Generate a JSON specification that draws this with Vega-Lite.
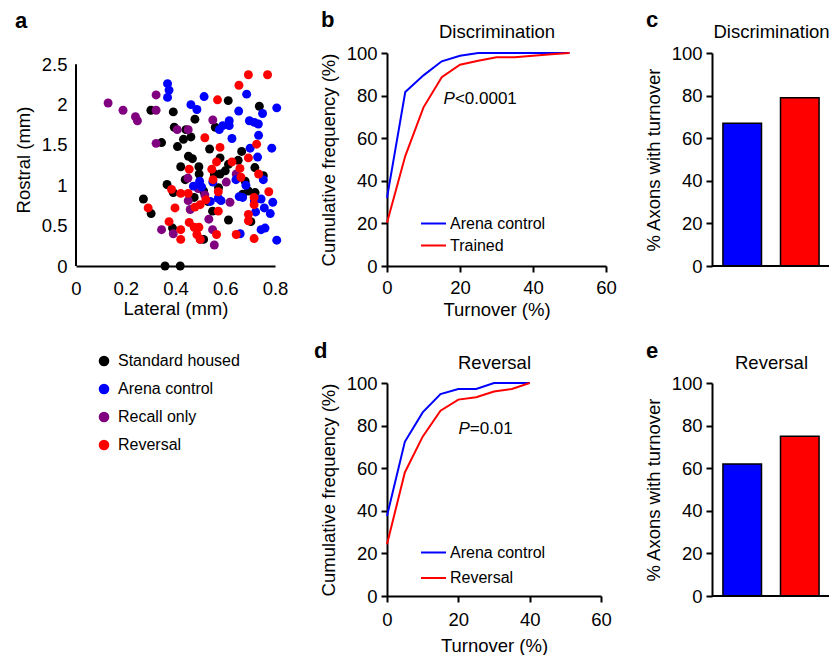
{
  "$schema": "https://vega.github.io/schema/vega-lite/v6.json",
  "padding": {"left": 14, "top": 9, "right": 0, "bottom": 0},
  "bounds": "flush",
  "columns": 3,
  "spacing": {"row": 117, "column": 106},
  "resolve": {"scale": {"color": "independent", "x": "independent", "y": "independent"}, "legend": {"color": "independent"}},
  "concat": [
    {
      "width": 199,
      "height": 213,
      "title": {"text": "a", "anchor": "start", "frame": "group", "fontSize": 22, "fontWeight": "bold", "dx": -61, "offset": 20},
      "layer": [
        {
          "data": {"values": [{}]},
          "mark": {"type": "rule", "color": "black", "strokeWidth": 2},
          "encoding": {
            "x": {"datum": 0, "type": "quantitative"},
            "y": {"datum": 0, "type": "quantitative"},
            "y2": {"datum": 2.5}
          }
        },
        {
          "data": {"values": [
            {"lateral": 0.301, "rostral": 1.93, "group": "Standard housed"},
            {"lateral": 0.344, "rostral": 1.53, "group": "Standard housed"},
            {"lateral": 0.391, "rostral": 1.91, "group": "Standard housed"},
            {"lateral": 0.478, "rostral": 1.82, "group": "Standard housed"},
            {"lateral": 0.395, "rostral": 1.72, "group": "Standard housed"},
            {"lateral": 0.442, "rostral": 1.69, "group": "Standard housed"},
            {"lateral": 0.432, "rostral": 1.57, "group": "Standard housed"},
            {"lateral": 0.462, "rostral": 1.60, "group": "Standard housed"},
            {"lateral": 0.408, "rostral": 1.48, "group": "Standard housed"},
            {"lateral": 0.537, "rostral": 1.45, "group": "Standard housed"},
            {"lateral": 0.612, "rostral": 2.05, "group": "Standard housed"},
            {"lateral": 0.737, "rostral": 1.98, "group": "Standard housed"},
            {"lateral": 0.666, "rostral": 1.42, "group": "Standard housed"},
            {"lateral": 0.452, "rostral": 1.36, "group": "Standard housed"},
            {"lateral": 0.468, "rostral": 1.33, "group": "Standard housed"},
            {"lateral": 0.421, "rostral": 1.23, "group": "Standard housed"},
            {"lateral": 0.494, "rostral": 1.23, "group": "Standard housed"},
            {"lateral": 0.439, "rostral": 1.07, "group": "Standard housed"},
            {"lateral": 0.495, "rostral": 1.14, "group": "Standard housed"},
            {"lateral": 0.556, "rostral": 1.14, "group": "Standard housed"},
            {"lateral": 0.579, "rostral": 1.34, "group": "Standard housed"},
            {"lateral": 0.579, "rostral": 1.14, "group": "Standard housed"},
            {"lateral": 0.613, "rostral": 1.26, "group": "Standard housed"},
            {"lateral": 0.652, "rostral": 1.31, "group": "Standard housed"},
            {"lateral": 0.719, "rostral": 1.22, "group": "Standard housed"},
            {"lateral": 0.753, "rostral": 1.12, "group": "Standard housed"},
            {"lateral": 0.366, "rostral": 1.01, "group": "Standard housed"},
            {"lateral": 0.391, "rostral": 0.91, "group": "Standard housed"},
            {"lateral": 0.271, "rostral": 0.83, "group": "Standard housed"},
            {"lateral": 0.302, "rostral": 0.65, "group": "Standard housed"},
            {"lateral": 0.513, "rostral": 0.93, "group": "Standard housed"},
            {"lateral": 0.573, "rostral": 0.97, "group": "Standard housed"},
            {"lateral": 0.693, "rostral": 0.93, "group": "Standard housed"},
            {"lateral": 0.720, "rostral": 0.91, "group": "Standard housed"},
            {"lateral": 0.549, "rostral": 0.68, "group": "Standard housed"},
            {"lateral": 0.613, "rostral": 0.57, "group": "Standard housed"},
            {"lateral": 0.703, "rostral": 0.55, "group": "Standard housed"},
            {"lateral": 0.513, "rostral": 0.33, "group": "Standard housed"},
            {"lateral": 0.358, "rostral": 0.0, "group": "Standard housed"},
            {"lateral": 0.419, "rostral": 0.0, "group": "Standard housed"},
            {"lateral": 0.388, "rostral": 0.47, "group": "Standard housed"},
            {"lateral": 0.475, "rostral": 0.85, "group": "Standard housed"},
            {"lateral": 0.530, "rostral": 0.80, "group": "Standard housed"},
            {"lateral": 0.680, "rostral": 1.05, "group": "Standard housed"},
            {"lateral": 0.600, "rostral": 1.18, "group": "Standard housed"},
            {"lateral": 0.560, "rostral": 1.72, "group": "Standard housed"},
            {"lateral": 0.670, "rostral": 0.89, "group": "Standard housed"},
            {"lateral": 0.129, "rostral": 2.02, "group": "Recall only"},
            {"lateral": 0.189, "rostral": 1.93, "group": "Recall only"},
            {"lateral": 0.239, "rostral": 1.85, "group": "Recall only"},
            {"lateral": 0.247, "rostral": 1.80, "group": "Recall only"},
            {"lateral": 0.322, "rostral": 2.12, "group": "Recall only"},
            {"lateral": 0.322, "rostral": 1.93, "group": "Recall only"},
            {"lateral": 0.322, "rostral": 1.52, "group": "Recall only"},
            {"lateral": 0.407, "rostral": 1.69, "group": "Recall only"},
            {"lateral": 0.451, "rostral": 1.69, "group": "Recall only"},
            {"lateral": 0.550, "rostral": 1.81, "group": "Recall only"},
            {"lateral": 0.344, "rostral": 0.45, "group": "Recall only"},
            {"lateral": 0.391, "rostral": 0.40, "group": "Recall only"},
            {"lateral": 0.451, "rostral": 0.81, "group": "Recall only"},
            {"lateral": 0.459, "rostral": 0.70, "group": "Recall only"},
            {"lateral": 0.491, "rostral": 0.96, "group": "Recall only"},
            {"lateral": 0.518, "rostral": 0.88, "group": "Recall only"},
            {"lateral": 0.534, "rostral": 0.58, "group": "Recall only"},
            {"lateral": 0.549, "rostral": 0.45, "group": "Recall only"},
            {"lateral": 0.556, "rostral": 0.26, "group": "Recall only"},
            {"lateral": 0.604, "rostral": 1.04, "group": "Recall only"},
            {"lateral": 0.619, "rostral": 0.79, "group": "Recall only"},
            {"lateral": 0.644, "rostral": 1.14, "group": "Recall only"},
            {"lateral": 0.500, "rostral": 0.33, "group": "Recall only"},
            {"lateral": 0.450, "rostral": 1.09, "group": "Recall only"},
            {"lateral": 0.368, "rostral": 2.26, "group": "Arena control"},
            {"lateral": 0.374, "rostral": 2.18, "group": "Arena control"},
            {"lateral": 0.368, "rostral": 2.09, "group": "Arena control"},
            {"lateral": 0.515, "rostral": 2.10, "group": "Arena control"},
            {"lateral": 0.462, "rostral": 2.00, "group": "Arena control"},
            {"lateral": 0.486, "rostral": 1.94, "group": "Arena control"},
            {"lateral": 0.686, "rostral": 2.13, "group": "Arena control"},
            {"lateral": 0.654, "rostral": 1.92, "group": "Arena control"},
            {"lateral": 0.807, "rostral": 1.96, "group": "Arena control"},
            {"lateral": 0.750, "rostral": 1.89, "group": "Arena control"},
            {"lateral": 0.697, "rostral": 1.80, "group": "Arena control"},
            {"lateral": 0.717, "rostral": 1.78, "group": "Arena control"},
            {"lateral": 0.733, "rostral": 1.76, "group": "Arena control"},
            {"lateral": 0.734, "rostral": 1.62, "group": "Arena control"},
            {"lateral": 0.576, "rostral": 1.69, "group": "Arena control"},
            {"lateral": 0.590, "rostral": 1.74, "group": "Arena control"},
            {"lateral": 0.616, "rostral": 1.74, "group": "Arena control"},
            {"lateral": 0.616, "rostral": 1.80, "group": "Arena control"},
            {"lateral": 0.627, "rostral": 1.58, "group": "Arena control"},
            {"lateral": 0.700, "rostral": 1.46, "group": "Arena control"},
            {"lateral": 0.787, "rostral": 1.46, "group": "Arena control"},
            {"lateral": 0.730, "rostral": 1.35, "group": "Arena control"},
            {"lateral": 0.753, "rostral": 1.07, "group": "Arena control"},
            {"lateral": 0.643, "rostral": 1.07, "group": "Arena control"},
            {"lateral": 0.683, "rostral": 1.00, "group": "Arena control"},
            {"lateral": 0.497, "rostral": 1.05, "group": "Arena control"},
            {"lateral": 0.472, "rostral": 0.99, "group": "Arena control"},
            {"lateral": 0.505, "rostral": 0.98, "group": "Arena control"},
            {"lateral": 0.550, "rostral": 1.04, "group": "Arena control"},
            {"lateral": 0.540, "rostral": 0.80, "group": "Arena control"},
            {"lateral": 0.572, "rostral": 0.84, "group": "Arena control"},
            {"lateral": 0.583, "rostral": 0.81, "group": "Arena control"},
            {"lateral": 0.656, "rostral": 0.86, "group": "Arena control"},
            {"lateral": 0.670, "rostral": 0.85, "group": "Arena control"},
            {"lateral": 0.717, "rostral": 0.81, "group": "Arena control"},
            {"lateral": 0.744, "rostral": 0.83, "group": "Arena control"},
            {"lateral": 0.791, "rostral": 0.79, "group": "Arena control"},
            {"lateral": 0.757, "rostral": 0.72, "group": "Arena control"},
            {"lateral": 0.722, "rostral": 0.67, "group": "Arena control"},
            {"lateral": 0.781, "rostral": 0.65, "group": "Arena control"},
            {"lateral": 0.744, "rostral": 0.45, "group": "Arena control"},
            {"lateral": 0.760, "rostral": 0.47, "group": "Arena control"},
            {"lateral": 0.660, "rostral": 0.40, "group": "Arena control"},
            {"lateral": 0.807, "rostral": 0.32, "group": "Arena control"},
            {"lateral": 0.655, "rostral": 2.24, "group": "Reversal"},
            {"lateral": 0.693, "rostral": 2.37, "group": "Reversal"},
            {"lateral": 0.770, "rostral": 2.37, "group": "Reversal"},
            {"lateral": 0.569, "rostral": 2.06, "group": "Reversal"},
            {"lateral": 0.518, "rostral": 1.59, "group": "Reversal"},
            {"lateral": 0.579, "rostral": 1.47, "group": "Reversal"},
            {"lateral": 0.726, "rostral": 1.51, "group": "Reversal"},
            {"lateral": 0.693, "rostral": 1.34, "group": "Reversal"},
            {"lateral": 0.565, "rostral": 1.29, "group": "Reversal"},
            {"lateral": 0.627, "rostral": 1.29, "group": "Reversal"},
            {"lateral": 0.659, "rostral": 1.21, "group": "Reversal"},
            {"lateral": 0.734, "rostral": 1.14, "group": "Reversal"},
            {"lateral": 0.663, "rostral": 1.10, "group": "Reversal"},
            {"lateral": 0.546, "rostral": 1.20, "group": "Reversal"},
            {"lateral": 0.455, "rostral": 1.20, "group": "Reversal"},
            {"lateral": 0.551, "rostral": 1.07, "group": "Reversal"},
            {"lateral": 0.384, "rostral": 0.95, "group": "Reversal"},
            {"lateral": 0.421, "rostral": 0.90, "group": "Reversal"},
            {"lateral": 0.451, "rostral": 0.90, "group": "Reversal"},
            {"lateral": 0.572, "rostral": 0.92, "group": "Reversal"},
            {"lateral": 0.775, "rostral": 0.92, "group": "Reversal"},
            {"lateral": 0.716, "rostral": 0.85, "group": "Reversal"},
            {"lateral": 0.716, "rostral": 0.76, "group": "Reversal"},
            {"lateral": 0.290, "rostral": 0.72, "group": "Reversal"},
            {"lateral": 0.398, "rostral": 0.72, "group": "Reversal"},
            {"lateral": 0.478, "rostral": 0.73, "group": "Reversal"},
            {"lateral": 0.499, "rostral": 0.76, "group": "Reversal"},
            {"lateral": 0.522, "rostral": 0.82, "group": "Reversal"},
            {"lateral": 0.572, "rostral": 0.68, "group": "Reversal"},
            {"lateral": 0.693, "rostral": 0.64, "group": "Reversal"},
            {"lateral": 0.693, "rostral": 0.56, "group": "Reversal"},
            {"lateral": 0.374, "rostral": 0.55, "group": "Reversal"},
            {"lateral": 0.455, "rostral": 0.54, "group": "Reversal"},
            {"lateral": 0.475, "rostral": 0.48, "group": "Reversal"},
            {"lateral": 0.494, "rostral": 0.48, "group": "Reversal"},
            {"lateral": 0.421, "rostral": 0.45, "group": "Reversal"},
            {"lateral": 0.421, "rostral": 0.33, "group": "Reversal"},
            {"lateral": 0.486, "rostral": 0.39, "group": "Reversal"},
            {"lateral": 0.499, "rostral": 0.33, "group": "Reversal"},
            {"lateral": 0.565, "rostral": 0.39, "group": "Reversal"},
            {"lateral": 0.644, "rostral": 0.39, "group": "Reversal"},
            {"lateral": 0.716, "rostral": 0.34, "group": "Reversal"}
          ]},
          "mark": {"type": "circle", "size": 80, "opacity": 1},
          "encoding": {
            "x": {
              "field": "lateral", "type": "quantitative",
              "scale": {"domain": [0, 0.8], "nice": false},
              "axis": {"values": [0, 0.2, 0.4, 0.6, 0.8], "format": "~g", "title": "Lateral (mm)", "ticks": false, "labelPadding": 13, "titlePadding": 2}
            },
            "y": {
              "field": "rostral", "type": "quantitative",
              "scale": {"domain": [0, 2.64], "nice": false},
              "axis": {"values": [0, 0.5, 1, 1.5, 2, 2.5], "format": "~g", "title": "Rostral (mm)", "ticks": false, "domain": false, "labelPadding": 9, "titlePadding": 8}
            },
            "color": {
              "field": "group", "type": "nominal",
              "scale": {"domain": ["Standard housed", "Arena control", "Recall only", "Reversal"], "range": ["#000000", "#0000ff", "#800080", "#ff0000"]},
              "legend": {"orient": "none", "legendX": 20, "legendY": 300, "title": null, "symbolType": "circle", "symbolSize": 113, "symbolOpacity": 1, "labelOffset": 6, "rowPadding": 12, "labelFontSize": 16, "padding": 0}
            }
          }
        }
      ]
    },
    {
      "width": 219,
      "height": 213,
      "title": {"text": "b", "anchor": "start", "frame": "group", "fontSize": 22, "fontWeight": "bold", "dx": -66, "offset": -10},
      "resolve": {"scale": {"x": "independent"}},
      "layer": [
        {
          "data": {"values": [
            {"turnover": 0, "cumfreq": 32.0, "group": "Arena control"},
            {"turnover": 5, "cumfreq": 81.7, "group": "Arena control"},
            {"turnover": 10, "cumfreq": 89.5, "group": "Arena control"},
            {"turnover": 15, "cumfreq": 96.1, "group": "Arena control"},
            {"turnover": 20, "cumfreq": 98.7, "group": "Arena control"},
            {"turnover": 25, "cumfreq": 100, "group": "Arena control"},
            {"turnover": 30, "cumfreq": 100, "group": "Arena control"},
            {"turnover": 35, "cumfreq": 100, "group": "Arena control"},
            {"turnover": 40, "cumfreq": 100, "group": "Arena control"},
            {"turnover": 45, "cumfreq": 100, "group": "Arena control"},
            {"turnover": 50, "cumfreq": 100, "group": "Arena control"},
            {"turnover": 0, "cumfreq": 20.3, "group": "Trained"},
            {"turnover": 5, "cumfreq": 51.6, "group": "Trained"},
            {"turnover": 10, "cumfreq": 74.5, "group": "Trained"},
            {"turnover": 15, "cumfreq": 88.6, "group": "Trained"},
            {"turnover": 20, "cumfreq": 94.5, "group": "Trained"},
            {"turnover": 25, "cumfreq": 96.4, "group": "Trained"},
            {"turnover": 30, "cumfreq": 98.0, "group": "Trained"},
            {"turnover": 35, "cumfreq": 98.0, "group": "Trained"},
            {"turnover": 40, "cumfreq": 98.7, "group": "Trained"},
            {"turnover": 45, "cumfreq": 99.4, "group": "Trained"},
            {"turnover": 50, "cumfreq": 100, "group": "Trained"}
          ]},
          "mark": {"type": "line", "strokeWidth": 2},
          "encoding": {
            "x": {"field": "turnover", "type": "quantitative", "scale": {"domain": [0, 60], "nice": false}, "axis": {"values": [0, 20, 40, 60], "title": "Turnover (%)", "labelPadding": 6, "titlePadding": 4}},
            "y": {"field": "cumfreq", "type": "quantitative", "scale": {"domain": [0, 100], "nice": false}, "axis": {"values": [0, 20, 40, 60, 80, 100], "title": "Cumulative frequency (%)", "labelPadding": 4, "titlePadding": 8}},
            "color": {
              "field": "group", "type": "nominal",
              "scale": {"domain": ["Arena control", "Trained"], "range": ["#0000ff", "#ff0000"]},
              "legend": {"orient": "none", "legendX": 33, "legendY": 157, "title": null, "symbolType": "stroke", "symbolSize": 625, "symbolStrokeWidth": 2, "labelOffset": 3, "rowPadding": 0, "labelFontSize": 16, "padding": 0}
            }
          }
        },
        {
          "data": {"values": [{}]},
          "mark": {"type": "text", "text": "<0.0001", "fontSize": 17, "align": "left", "baseline": "middle"},
          "encoding": {
            "x": {"datum": 18.6, "type": "quantitative", "scale": {"domain": [0, 60], "nice": false}, "axis": null},
            "y": {"datum": 78.4, "type": "quantitative"}
          }
        },
        {
          "data": {"values": [{}]},
          "mark": {"type": "text", "text": "P", "fontStyle": "italic", "fontSize": 17, "align": "right", "baseline": "middle"},
          "encoding": {
            "x": {"datum": 18.6, "type": "quantitative", "scale": {"domain": [0, 60], "nice": false},
                  "axis": {"orient": "top", "title": "Discrimination", "labels": false, "ticks": false, "domain": false, "titleBaseline": "alphabetic", "titlePadding": 16}},
            "y": {"datum": 78.4, "type": "quantitative"}
          }
        }
      ]
    },
    {
      "width": 118,
      "height": 213,
      "title": {"text": "c", "anchor": "start", "frame": "group", "fontSize": 22, "fontWeight": "bold", "dx": -66, "offset": -10},
      "layer": [
        {
          "data": {"values": [
            {"group": "Arena control", "pct": 67},
            {"group": "Trained", "pct": 79}
          ]},
          "mark": {"type": "bar", "stroke": "black", "strokeWidth": 1.5},
          "encoding": {
            "x": {"field": "group", "type": "nominal", "sort": null, "scale": {"paddingInner": 0.33, "paddingOuter": 0.19},
                  "axis": {"orient": "top", "title": "Discrimination", "labels": false, "ticks": false, "domain": false, "titleBaseline": "alphabetic", "titlePadding": 16}},
            "y": {"field": "pct", "type": "quantitative", "scale": {"domain": [0, 100], "nice": false}, "axis": {"values": [0, 20, 40, 60, 80, 100], "title": "% Axons with turnover", "labelPadding": 4, "titlePadding": 8}},
            "color": {"field": "group", "type": "nominal", "scale": {"domain": ["Arena control", "Trained"], "range": ["#0000ff", "#ff0000"]}, "legend": null}
          }
        },
        {
          "data": {"values": [{}]},
          "mark": {"type": "rule", "color": "black", "strokeWidth": 2},
          "encoding": {"y": {"datum": 0, "type": "quantitative"}}
        }
      ]
    },
    {
      "width": 205,
      "height": 213,
      "data": {"values": []},
      "mark": "point"
    },
    {
      "width": 214,
      "height": 213,
      "title": {"text": "d", "anchor": "start", "frame": "group", "fontSize": 22, "fontWeight": "bold", "dx": -73, "offset": -10},
      "resolve": {"scale": {"x": "independent"}},
      "layer": [
        {
          "data": {"values": [
            {"turnover": 0, "cumfreq": 37.6, "group": "Arena control"},
            {"turnover": 5, "cumfreq": 72.4, "group": "Arena control"},
            {"turnover": 10, "cumfreq": 86.2, "group": "Arena control"},
            {"turnover": 15, "cumfreq": 94.8, "group": "Arena control"},
            {"turnover": 20, "cumfreq": 97.2, "group": "Arena control"},
            {"turnover": 25, "cumfreq": 97.2, "group": "Arena control"},
            {"turnover": 30, "cumfreq": 100, "group": "Arena control"},
            {"turnover": 35, "cumfreq": 100, "group": "Arena control"},
            {"turnover": 40, "cumfreq": 100, "group": "Arena control"},
            {"turnover": 0, "cumfreq": 24.3, "group": "Reversal"},
            {"turnover": 5, "cumfreq": 58.0, "group": "Reversal"},
            {"turnover": 10, "cumfreq": 74.8, "group": "Reversal"},
            {"turnover": 15, "cumfreq": 87.0, "group": "Reversal"},
            {"turnover": 20, "cumfreq": 92.2, "group": "Reversal"},
            {"turnover": 25, "cumfreq": 93.3, "group": "Reversal"},
            {"turnover": 30, "cumfreq": 96.0, "group": "Reversal"},
            {"turnover": 35, "cumfreq": 97.2, "group": "Reversal"},
            {"turnover": 40, "cumfreq": 100, "group": "Reversal"}
          ]},
          "mark": {"type": "line", "strokeWidth": 2},
          "encoding": {
            "x": {"field": "turnover", "type": "quantitative", "scale": {"domain": [0, 60], "nice": false}, "axis": {"values": [0, 20, 40, 60], "title": "Turnover (%)", "labelPadding": 8, "titlePadding": 8}},
            "y": {"field": "cumfreq", "type": "quantitative", "scale": {"domain": [0, 100], "nice": false}, "axis": {"values": [0, 20, 40, 60, 80, 100], "title": "Cumulative frequency (%)", "labelPadding": 4, "titlePadding": 8}},
            "color": {
              "field": "group", "type": "nominal",
              "scale": {"domain": ["Arena control", "Reversal"], "range": ["#0000ff", "#ff0000"]},
              "legend": {"orient": "none", "legendX": 33, "legendY": 156, "title": null, "symbolType": "stroke", "symbolSize": 625, "symbolStrokeWidth": 2, "labelOffset": 3, "rowPadding": 3.5, "labelFontSize": 16, "padding": 0}
            }
          }
        },
        {
          "data": {"values": [{}]},
          "mark": {"type": "text", "text": "=0.01", "fontSize": 17, "align": "left", "baseline": "middle"},
          "encoding": {
            "x": {"datum": 23.2, "type": "quantitative", "scale": {"domain": [0, 60], "nice": false}, "axis": null},
            "y": {"datum": 78.4, "type": "quantitative"}
          }
        },
        {
          "data": {"values": [{}]},
          "mark": {"type": "text", "text": "P", "fontStyle": "italic", "fontSize": 17, "align": "right", "baseline": "middle"},
          "encoding": {
            "x": {"datum": 23.2, "type": "quantitative", "scale": {"domain": [0, 60], "nice": false},
                  "axis": {"orient": "top", "title": "Reversal", "labels": false, "ticks": false, "domain": false, "titleBaseline": "alphabetic", "titlePadding": 15}},
            "y": {"datum": 78.4, "type": "quantitative"}
          }
        }
      ]
    },
    {
      "width": 118,
      "height": 213,
      "title": {"text": "e", "anchor": "start", "frame": "group", "fontSize": 22, "fontWeight": "bold", "dx": -66, "offset": -10},
      "layer": [
        {
          "data": {"values": [
            {"group": "Arena control", "pct": 62},
            {"group": "Reversal", "pct": 75}
          ]},
          "mark": {"type": "bar", "stroke": "black", "strokeWidth": 1.5},
          "encoding": {
            "x": {"field": "group", "type": "nominal", "sort": null, "scale": {"paddingInner": 0.33, "paddingOuter": 0.19},
                  "axis": {"orient": "top", "title": "Reversal", "labels": false, "ticks": false, "domain": false, "titleBaseline": "alphabetic", "titlePadding": 15}},
            "y": {"field": "pct", "type": "quantitative", "scale": {"domain": [0, 100], "nice": false}, "axis": {"values": [0, 20, 40, 60, 80, 100], "title": "% Axons with turnover", "labelPadding": 4, "titlePadding": 8}},
            "color": {"field": "group", "type": "nominal", "scale": {"domain": ["Arena control", "Reversal"], "range": ["#0000ff", "#ff0000"]}, "legend": null}
          }
        },
        {
          "data": {"values": [{}]},
          "mark": {"type": "rule", "color": "black", "strokeWidth": 2},
          "encoding": {"y": {"datum": 0, "type": "quantitative"}}
        }
      ]
    }
  ],
  "config": {
    "font": "Liberation Sans",
    "view": {"stroke": null},
    "axis": {
      "domainColor": "black", "domainWidth": 2,
      "tickColor": "black", "tickWidth": 2, "tickSize": 6,
      "labelColor": "black", "labelFontSize": 18.5, "labelFlush": false,
      "titleColor": "black", "titleFontSize": 18.5, "titleFontWeight": "normal",
      "grid": false
    },
    "legend": {"labelColor": "black", "labelFontSize": 16},
    "title": {"fontSize": 18, "fontWeight": "normal", "color": "black"},
    "text": {"color": "black", "font": "Liberation Sans"}
  }
}
